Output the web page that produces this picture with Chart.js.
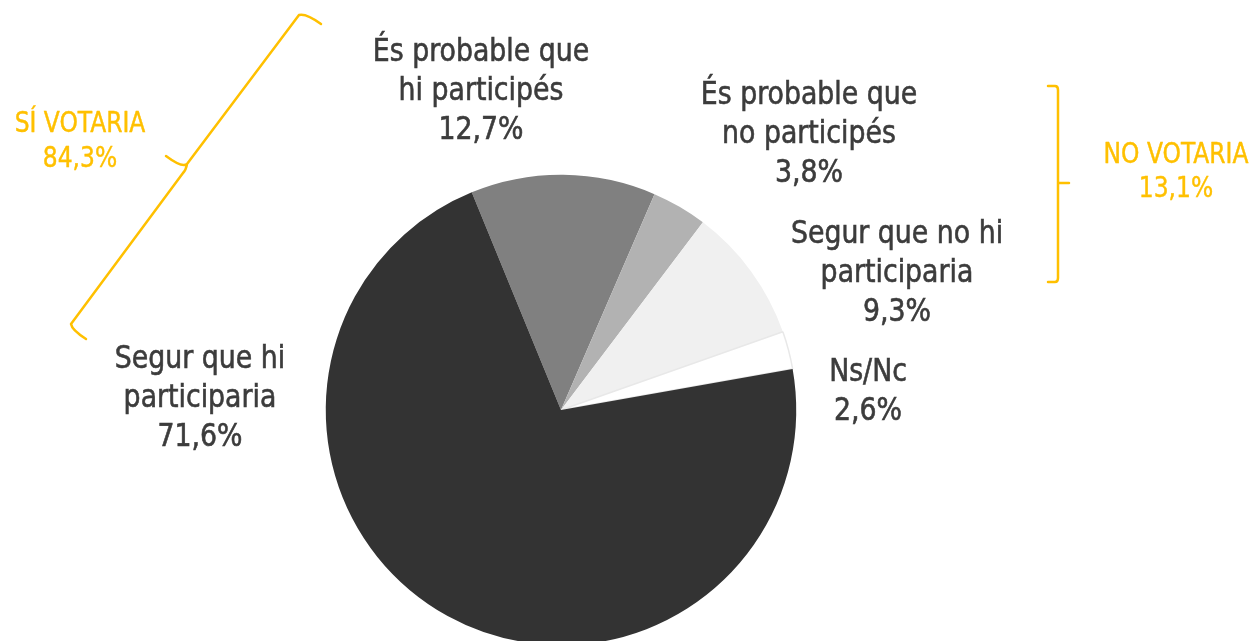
<!DOCTYPE html>
<html>
<head>
<meta charset="utf-8">
<script src="https://cdn.jsdelivr.net/npm/chart.js@4"></script>
<style>
  html, body { margin: 0; padding: 0; background: #fff; overflow: hidden; }
  #wrap { width: 1256px; height: 660px; position: relative; }
</style>
</head>
<body>
<div id="wrap"><canvas id="chart_vot"></canvas></div>
<script>
// data
const labels = [
  ['És probable que', 'hi participés'],
  ['És probable que', 'no participés'],
  ['Segur que no hi', 'participaria'],
  ['Ns/Nc'],
  ['Segur que hi', 'participaria']
];
const values = [12.7, 3.8, 9.3, 2.6, 71.6];
const valueText = ['12,7%', '3,8%', '9,3%', '2,6%', '71,6%'];
const groupNames = ['SÍ VOTARIA', 'NO VOTARIA'];
const groupValues = ['84,3%', '13,1%'];

const colors = ['#808080', '#b2b2b2', '#f0f0f0', '#ffffff', '#333333'];
const textColor = '#3c3c3c';
const gold = '#ffc000';
const font = '"Liberation Sans Narrow", "DejaVu Sans Condensed", "Arial Narrow", sans-serif';

// label anchors, relative to pie centre (px): center x, first baseline
const labelAnchor = [
  [-80, -349],
  [248, -306],
  [336, -167],
  [307, -29],
  [-361, -42]
];

// narrow text: squeeze the condensed font a bit
function narrowText(ctx, t, x, y, squeeze) {
  const w = ctx.measureText(t).width;
  ctx.fillText(t, x, y, w * squeeze);
  ctx.strokeText(t, x, y, w * squeeze);
}

const labelPlugin = {
  id: 'sliceLabels',
  afterDraw(chart) {
    const ctx = chart.ctx;
    const arc = chart.getDatasetMeta(0).data[0];
    const cx = arc.x, cy = arc.y;
    ctx.save();
    ctx.textAlign = 'center';
    ctx.textBaseline = 'alphabetic';
    ctx.fillStyle = textColor;
    ctx.strokeStyle = textColor;
    ctx.lineWidth = 0.6;
    ctx.font = '32px ' + font;
    labels.forEach(function (lines, i) {
      const x = cx + labelAnchor[i][0];
      let y = cy + labelAnchor[i][1];
      lines.concat([valueText[i]]).forEach(function (t) {
        narrowText(ctx, t, x, y, 0.93);
        y += 39;
      });
    });

    // group brackets
    ctx.strokeStyle = gold;
    ctx.lineWidth = 2.5;
    ctx.lineJoin = 'round';
    ctx.lineCap = 'round';
    ctx.beginPath();
    ctx.moveTo(321, 24);
    ctx.quadraticCurveTo(306, 13, 299, 15);
    ctx.lineTo(187, 164);
    ctx.quadraticCurveTo(182, 168, 166, 156);
    ctx.moveTo(187, 164);
    ctx.quadraticCurveTo(186, 170, 183, 173);
    ctx.lineTo(71, 324);
    ctx.quadraticCurveTo(72, 330, 86, 339);
    ctx.stroke();

    ctx.beginPath();
    ctx.moveTo(1048, 86);
    ctx.lineTo(1055, 86);
    ctx.quadraticCurveTo(1058, 86, 1058, 90);
    ctx.lineTo(1058, 278);
    ctx.quadraticCurveTo(1058, 282, 1055, 282);
    ctx.lineTo(1048, 282);
    ctx.moveTo(1058, 183);
    ctx.lineTo(1069, 183);
    ctx.stroke();

    ctx.fillStyle = gold;
    ctx.strokeStyle = gold;
    ctx.lineWidth = 0.4;
    ctx.font = '28px ' + font;
    narrowText(ctx, groupNames[0], 80, 132, 0.93);
    narrowText(ctx, groupValues[0], 80, 167, 0.93);
    narrowText(ctx, groupNames[1], 1176, 163, 0.93);
    narrowText(ctx, groupValues[1], 1176, 197, 0.93);
    ctx.restore();
  }
};

const ctx = document.getElementById('chart_vot').getContext('2d');
const chart = new Chart(ctx, {
  type: 'pie',
  data: {
    labels: labels.map(function (l) { return l.join(' '); }),
    datasets: [{
      data: values,
      backgroundColor: colors,
      borderColor: ['#808080', '#b2b2b2', '#f0f0f0', '#e8e8e8', '#333333'],
      borderWidth: [0, 0, 0, 1.5, 0]
    }]
  },
  options: {
    responsive: true,
    maintainAspectRatio: false,
    animation: false,
    rotation: -22.3,
    layout: { padding: { left: 325, right: 459, top: 174, bottom: 14 } },
    plugins: {
      legend: { display: false },
      tooltip: { enabled: false }
    }
  },
  plugins: [labelPlugin]
});
</script>
</body>
</html>
